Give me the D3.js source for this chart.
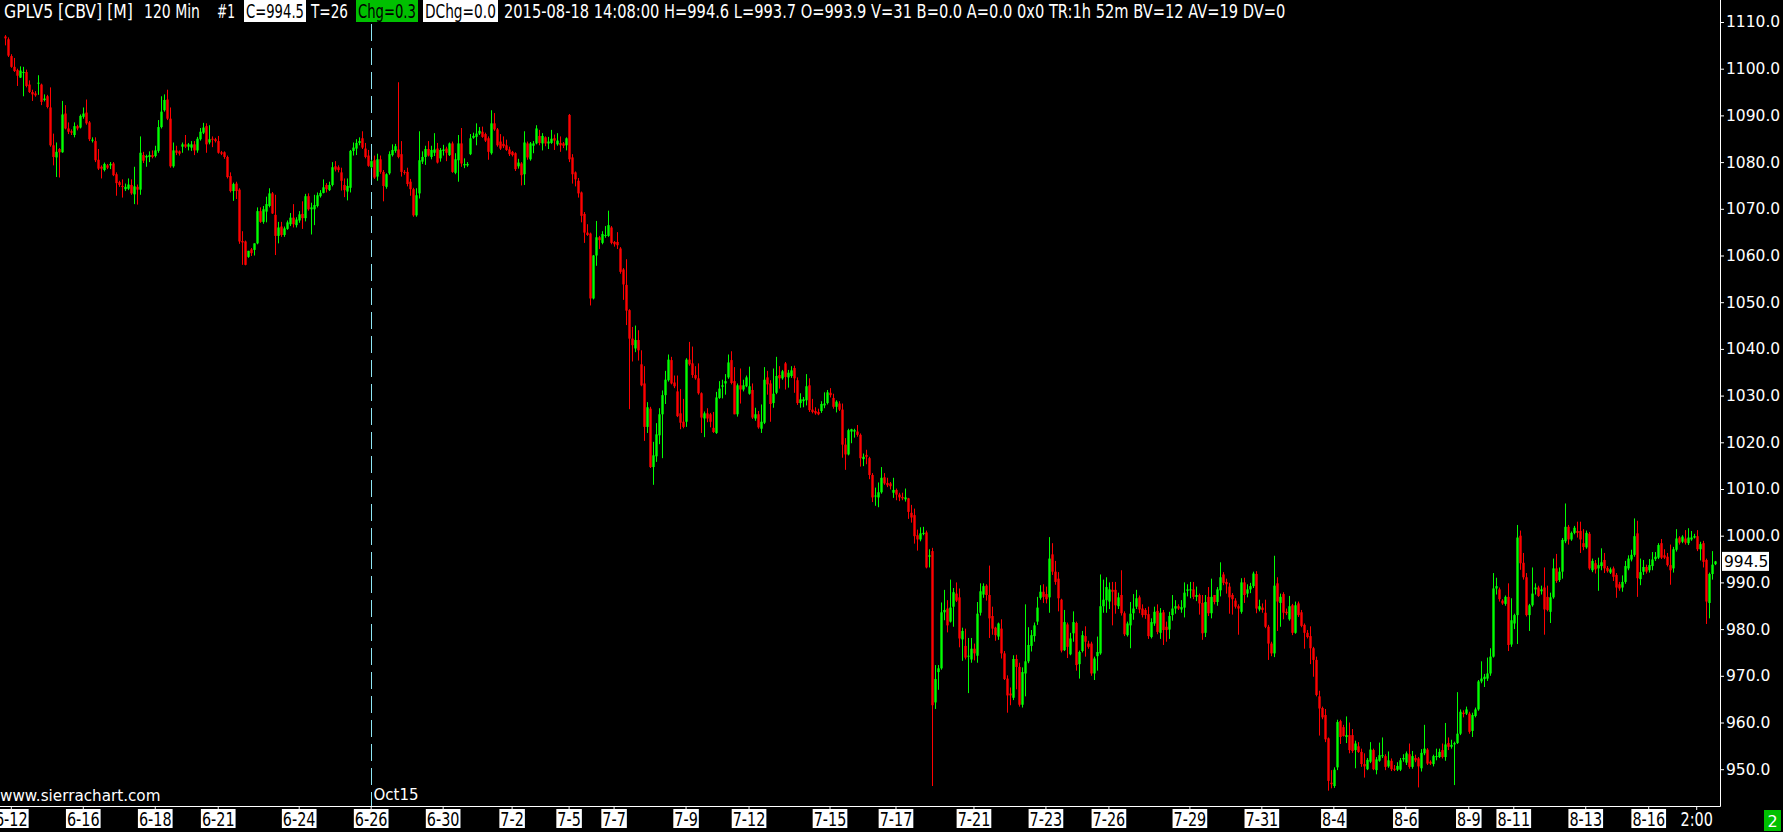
<!DOCTYPE html>
<html lang="en">
<head>
<meta charset="UTF-8">
<title>GPLV5 [CBV] 120 Min</title>
<script src="https://d3js.org/d3.v7.min.js"></script>
<style>
  html, body { margin: 0; padding: 0; background: #000; overflow: hidden; }
  svg { display: block; }
</style>
</head>
<body>
<svg width="1783" height="832"></svg>
<script>
// 120 min bars, one per entry, oldest first
const opens = [
1106.9,1106.3,1102.7,1100.4,1099.7,1098.1,1099.1,1099.3,1096.6,1095,
1094.7,1096.8,1096.6,1093.3,1094.1,1091.7,1083.6,1081,1082.8,1082.1,
1090.4,1087.2,1086.6,1085.8,1087.7,1087.4,1089.7,1090.6,1088.5,1084.6,
1084.5,1080.5,1079,1078.3,1079.3,1079.3,1079.7,1077.4,1075.7,1074.9,
1074.2,1074.3,1075.1,1073.1,1074.7,1074.1,1081.5,1081,1081.1,1081.5,
1081.3,1082.4,1087.5,1091.1,1093.4,1089.3,1079.1,1082.5,1082.3,1083.3,
1083.8,1083.3,1083.1,1083.8,1082.5,1084.9,1086.3,1087.7,1084.2,1085,
1084.9,1084.5,1082.1,1082.1,1081.1,1077,1073.8,1075.4,1074.1,1063.1,
1063,1059.7,1061.3,1061.2,1062.6,1069.5,1067.2,1069.4,1070.6,1073.3,
1068.7,1064.2,1066.2,1064.4,1065.7,1066.7,1068.1,1066.5,1067.5,1068.9,
1068,1072.7,1069.9,1069.9,1070.6,1072.7,1073.4,1075.1,1074,1075.1,
1079.1,1078.9,1077.8,1075.1,1073.7,1074.5,1082.4,1082.9,1084.1,1085.1,
1082.9,1081.4,1078.9,1080.4,1076.9,1080.6,1077.9,1074.7,1077.6,1081.5,
1082.4,1082.7,1081.7,1077.9,1077.9,1075.8,1074.2,1068.6,1073.3,1080.1,
1081.1,1082.8,1081.1,1082,1082.9,1080.8,1082.4,1082.9,1081.5,1084,
1077.7,1080.4,1084,1079.3,1079.3,1081.7,1085.2,1085.4,1086.1,1086.5,
1086,1085.1,1081.9,1088.3,1087,1084.4,1083.9,1083.6,1082.7,1082.2,
1081.9,1079.1,1079.7,1077.4,1084,1080.6,1083.5,1084,1085.6,1084,
1085.3,1084,1084.1,1085.1,1083.8,1084.1,1084,1083.6,1090.1,1081,
1077.8,1076,1073.5,1068.9,1064.9,1064.7,1050.8,1060,1063.9,1062.7,
1064.2,1064.2,1066,1062.9,1062.9,1061.5,1057,1053.7,1048.3,1042.2,
1040.1,1041.9,1036.7,1032.6,1023.3,1027.2,1014.7,1017,1021.5,1026,
1030.1,1033.3,1037.6,1032.8,1030.9,1026.2,1024.4,1024.4,1037.7,1036.9,
1034.4,1033.7,1030.5,1025.1,1026.2,1026,1023.1,1022,1029.5,1031.9,
1032.6,1033.9,1037.6,1033.1,1026,1032.2,1031.3,1032,1030.4,1031.2,
1025.1,1026,1022.9,1024.2,1033.9,1032.6,1028.4,1030.6,1034.4,1033.7,
1036.9,1033.9,1034.2,1035.9,1033.3,1028.4,1028.8,1029,1032.2,1027,
1026.7,1026.5,1026.7,1027.9,1028.4,1030.6,1029.5,1027.6,1028.3,1027,
1019.5,1017.4,1022.3,1022.3,1022.3,1021.6,1016.4,1017.3,1016.6,1013,
1008.5,1008.2,1009.3,1012.5,1011.3,1011.2,1009.2,1009.8,1008.8,1008.3,
1007.8,1008,1004.9,1004.4,1000.1,999.2,1000.4,1000.7,995.5,996.7,
964.3,970.8,971.6,983.6,984.4,981.6,984.8,987.6,986.8,977.8,
976.4,974.2,973.5,975.8,974.3,983.5,987.4,989.3,987.3,982.8,
980.3,978.4,980.1,974.8,969.4,966.2,965.3,973.6,971.9,963.8,
970.5,973.1,976.4,978.5,981.6,986.7,988,987.5,986.8,996,
992.3,990.8,986.3,975.5,981,974.6,979.1,981.3,972.5,975.3,
978.5,976.9,976.9,970.5,974.2,974.8,984.9,986.2,985.9,988.4,
988.4,984.9,987.3,983.4,978.7,980.8,983.4,984.8,986.8,984.4,
984.1,983.2,978.3,981.2,983.9,979.2,983.6,980.5,979.9,983,
984.4,984.9,984.2,984.6,988.2,988.3,988.5,986.9,987.3,985.6,
979.2,986.9,983.4,987.3,985.8,988.3,991.7,990.1,989.1,987.3,
986.1,984.9,983.7,990,987.6,988.5,989.2,991.8,984.2,984.6,
983.5,980.5,976.9,974.8,989.8,985.6,987.5,983.7,982.1,985.1,
979.2,985.5,983.6,980.9,979.2,978.5,975.9,973.4,965.6,963.1,
961.6,956.6,947.1,946.4,950.4,960.3,959,956.9,957.3,957.3,
954.1,954.9,953.7,951.1,950,951.6,954.1,949.8,951.8,952.8,
952.8,950.6,951.8,950.1,949.9,949.9,952.1,951.4,953.2,950.5,
952.4,952.3,950.2,953.4,954.2,951.6,951.1,952.6,952.6,954.1,
952.6,955.6,954.8,955.3,955.6,957.6,962.1,961.9,961.9,958.2,
961.4,962.8,968.8,969.3,969.4,970.5,974.1,988.7,988.5,986.1,
985.4,986.9,976.7,981.2,983,1000,994.2,991.1,983,985.1,
988.5,988.9,988.1,988.9,986.9,983.7,986.8,993,990.5,992.3,
998.8,1001.9,999.2,1000.6,1001,1001,998.4,997.5,1000.4,992.6,
994.1,993,993.5,994.8,993.1,992.1,993,991.6,989.6,988.9,
990.1,993,994.9,995.9,1000.5,990.7,992.3,993.3,992.6,993.5,
995,995.3,998.4,995.8,995.5,993.7,993,997,999.6,998.7,
999.4,998.4,999.2,999.6,999.9,997.1,998.4,994.8,985.6,991.8,
993.9];

const highs = [
1107.2,1106.7,1103.1,1102.3,1100,1100.5,1100.4,1099.8,1097.5,1095.5,
1095.2,1098.6,1096.8,1094.5,1094.4,1096,1086.1,1084.2,1083,1093.1,
1092.2,1088.5,1087,1088.5,1088,1090.2,1091.7,1093.4,1088.8,1085.3,
1085.3,1082.8,1079.3,1079.9,1079.6,1080,1080,1077.8,1076,1076.3,
1075.4,1076.5,1076.3,1079,1075.2,1085.5,1082.2,1081.6,1082.3,1082.5,
1083.5,1089,1094.1,1094.5,1095.5,1091.7,1084.2,1083.5,1082.5,1084.2,
1085.8,1084.1,1084.5,1084.5,1085.4,1087.3,1088.4,1088.3,1087.9,1085.5,
1085.2,1085.6,1082.4,1082.3,1081.4,1077.8,1075.6,1075.8,1074.4,1065.2,
1063.2,1061,1061.6,1062.6,1070.3,1070.3,1070.6,1072.6,1074.4,1073.6,
1073,1067.2,1067.2,1066.2,1067.5,1069.1,1071,1068.2,1069.5,1071.6,
1073.2,1073.3,1071.3,1073,1073.5,1074,1076.3,1075.5,1075.8,1080,
1080.2,1079.3,1078.8,1076.5,1076.5,1082.6,1084.2,1084.9,1085.3,1086.6,
1084.1,1082.6,1080.5,1081.4,1081.8,1081.4,1078.3,1077.6,1082.3,1083.8,
1083.9,1097.1,1084.5,1078.3,1078.8,1076.4,1074.5,1074.4,1086.6,1082.3,
1083.5,1084.5,1083.5,1086.2,1084.1,1083,1083.7,1083.3,1084.2,1084.4,
1081.9,1085.8,1087.3,1080.8,1080,1086,1086.3,1088.3,1087.5,1087.6,
1086.3,1085.5,1091.1,1090.5,1087.3,1086,1085.5,1084.8,1083.3,1082.4,
1082.1,1080.7,1080,1086.6,1084.4,1084.3,1084.5,1087.9,1086.9,1086.2,
1085.5,1085.4,1086.9,1085.9,1086.2,1085.5,1084.3,1085.3,1090.3,1081.7,
1078,1076.6,1073.7,1069.3,1066.7,1064.9,1060.1,1067.4,1064.2,1065.2,
1066.3,1069.6,1066.3,1063.1,1065,1061.8,1057.3,1059.2,1048.5,1044.7,
1045,1044,1039.7,1036.3,1028.6,1027.6,1020.1,1024.1,1027.3,1031.1,
1035.3,1038.8,1038.3,1034.3,1034.3,1031.4,1029.3,1038,1041.5,1040.5,
1036.3,1036.9,1030.7,1026.6,1027.3,1026.3,1026.5,1030.8,1033.1,1033.4,
1034.6,1038.8,1039.5,1036.1,1032.6,1035.8,1033.4,1034.3,1036.2,1032.6,
1027.4,1026.7,1028.1,1036.1,1035.3,1033.3,1035.8,1038.3,1036.3,1035.5,
1037.2,1035.5,1036.3,1036.4,1033.9,1030.5,1029.7,1034.6,1033.7,1029.3,
1027.5,1027.2,1028.8,1030.7,1031.2,1031.6,1030.4,1029,1028.8,1028.3,
1020.9,1022.9,1022.9,1022.9,1023.7,1021.9,1017.6,1018.4,1016.9,1013.4,
1010.3,1011.4,1014.7,1013.4,1012.4,1011.5,1012.4,1010.1,1009.2,1009.2,
1010.1,1008.1,1006.6,1005.8,1001.3,1001.8,1001.9,1001.1,997.1,997.4,
972.3,972.3,985.7,988.4,986.2,990.6,988.8,990,988.7,980.3,
980.1,978.1,978.1,976.9,985.8,989.8,989.8,989.6,993.6,984.8,
980.5,981.4,982.1,975.3,970.1,967.5,974.4,974.5,972.8,971.8,
985.3,980.4,979.8,981.4,986.9,989.4,989.6,989.1,999.7,998.4,
994.6,992.2,986.5,984.1,981.4,979.2,983.8,981.6,975.4,979.6,
980.6,977.5,977.3,974.1,978.4,991.7,990.6,991.1,990,990.1,
990.1,987.8,992.6,983.8,981.6,985.8,987.5,988.4,987.2,985.3,
984.5,984.8,982.3,984.8,985.3,984.5,984.1,981.6,983.7,987.3,
986.2,985.3,986.2,990,989.6,990.1,990.1,989.1,987.6,987.3,
987.3,989,990.8,987.3,989,994.3,992.2,990.8,989.9,987.7,
986.6,985.3,990.9,991,989.6,989.9,992.3,992.4,986.3,985.5,
986.3,980.9,977.3,995.7,991.1,987.6,987.9,984.4,987.1,985.4,
985.9,985.9,984.1,981.2,979.8,980.6,976.2,974.1,966.8,963.4,
962.9,956.8,949.8,950.4,960.6,960.6,959.5,961.3,960,958.6,
956.1,955.8,954.4,953.4,952.4,955.8,954.4,952.6,955.7,956.8,
953.2,953.8,952.3,950.9,951.5,952.4,953.2,953.8,955.5,953.9,
953.1,952.6,954.3,959.5,954.5,951.9,953.1,954.4,954.4,955.5,
959.9,956.8,956.3,955.9,966.5,962.8,962.6,963.4,962.3,962.1,
963.2,969.1,973.1,970.4,973.9,975.9,992,991,988.9,986.4,
987.2,989.8,986.6,983.3,1002.3,1001.1,996.3,992,985.4,993.2,
989.8,989.3,989.3,993.2,989.3,987.8,995.1,996.1,993.2,999.5,
1006.9,1002.3,1000.9,1002.1,1003,1003,1001.4,1001.1,1000.8,995.1,
994.8,995.3,997.3,996.3,993.5,993.2,993.4,992,990.1,991.5,
994.6,995.8,997,1003.7,1003.2,995.1,994.8,993.8,995,996.5,
996.5,998.4,999.3,997.1,996.3,998.1,997.6,1001.4,999.9,1000.1,
1001.2,1001.6,1001,1000.4,1001.2,998.7,998.9,995.1,992.1,996.7,
994.6];

const lows = [
1105,1102.5,1100.2,1099.3,1096.3,1098,1094.1,1096,1094.8,1093.1,
1094,1094.4,1092.2,1093,1091.5,1083.3,1079.3,1076.8,1076.7,1082,
1087,1086,1085.8,1085.3,1086.8,1087.2,1089.3,1088,1084.5,1084.2,
1080,1078.3,1076.5,1078,1078.5,1078.5,1077,1072.8,1074.7,1072.4,
1073.8,1074,1073,1071,1070.9,1073,1079.8,1079,1080,1080.8,
1081,1082,1087.2,1090.8,1089,1078.8,1078.8,1081.5,1081.4,1082,
1083,1082.5,1082.4,1081.5,1082,1084.6,1086,1082,1083.8,1083.2,
1084.2,1081.8,1081.5,1080.7,1076.5,1073.5,1071.7,1072.1,1062.5,1058,
1057.9,1059.5,1059.9,1060,1062.4,1067,1066.8,1067.1,1070.3,1068.9,
1060.1,1062.6,1064,1064,1065.5,1066.3,1066,1066,1067,1065.7,
1067.3,1069.6,1064.5,1066.5,1070.3,1072.4,1073.3,1073.5,1073.8,1074.8,
1078,1077.8,1073.9,1072.5,1071.8,1073.5,1081.4,1081.5,1083.6,1082.8,
1080.8,1079,1078.7,1076.4,1076,1077.5,1071.6,1074.3,1077.3,1081.2,
1082,1080.8,1076.9,1077.3,1074.8,1072.8,1068.3,1068.3,1072.2,1079.6,
1079.4,1081.2,1080.6,1081.3,1079.7,1080.1,1081.4,1080.2,1081.3,1077.7,
1077.4,1075.8,1079,1078.7,1079,1081.5,1085,1083.6,1085.8,1085.2,
1084.3,1080.5,1081.6,1086.7,1083.3,1082.6,1083,1082.4,1081.3,1081.2,
1078.1,1078.6,1075,1075.1,1080.5,1080.3,1081.9,1083.8,1083.6,1082.5,
1083.4,1082.8,1083.9,1082.6,1083.5,1082.2,1083,1082.5,1080,1075.4,
1074.8,1072.4,1067.1,1062.7,1064.2,1049.3,1050.6,1057.8,1061.4,1062.4,
1063.8,1064,1062.4,1061.9,1061.4,1056.1,1050.5,1045.1,1027.1,1037.3,
1039.3,1037.5,1032,1020.3,1022,1014.5,1010.9,1015.8,1019.6,1016.6,
1028.2,1033,1032.4,1031.6,1025.4,1022.8,1023,1023.3,1036.4,1033.8,
1033.4,1030.2,1022,1021.1,1024.3,1023.2,1022,1021.8,1029.3,1029.4,
1030.2,1033.6,1032.4,1026,1025.5,1028.3,1030.9,1031.8,1030.2,1025,
1024.6,1022.9,1022,1023.9,1030.2,1024.4,1027.4,1030.3,1031.5,1033.4,
1031.3,1031.7,1033.8,1030.6,1028,1027.4,1027.5,1027.9,1026.5,1026.2,
1025.9,1025.8,1026.3,1027.3,1028.1,1029.6,1027.2,1026.4,1026.7,1016.7,
1014.1,1017.2,1019.8,1021,1021.2,1014.8,1014.9,1015.3,1012.1,1007.2,
1006.4,1006.1,1009,1010.9,1010.4,1009.9,1008.1,1007.6,1007.4,1007.6,
1007.3,1003.6,1002.8,998.3,996.8,998.8,1000.1,993,993.2,946.4,
962.9,967,971.3,981.9,979.3,981.4,980.5,985.8,976.1,973.2,
973.5,966.3,972.8,973.3,972.8,982.9,986.7,986.1,978.1,978.8,
977.5,977.7,973.7,969.1,962.1,963.7,964.8,967.1,963.4,963.2,
965.6,972.7,975.2,977.3,980.9,986.3,985.6,985.5,983.5,991.6,
989.5,983.8,975,975.3,973.8,974.4,977.3,971.1,969.4,975,
974.1,975.8,970,969.1,971.1,974.5,983.5,983.5,984.3,980.8,
983.3,984.3,982.9,978.5,978.4,975.9,982,984.3,983.4,982.5,
982.2,977.9,978,980.7,978.9,977.9,976.6,977.3,977.9,981.8,
983.3,984.1,983.5,982.5,987,986.6,986.4,986,983.1,977.7,
978.3,982.8,982.3,985.3,985,987,989.4,987.6,983.3,983.1,
984.4,978.8,983.3,985.6,986.8,987.7,988.8,983.4,983.8,983.5,
980.2,973.4,974.2,974,979.6,980.5,982.1,983,981.8,978.7,
979,982.6,980.4,975.8,978,972.5,969.8,965.6,957.2,960.7,
955.8,945.4,945.9,946,949.8,955.4,957,955.6,953.4,953.5,
950.2,953.5,950.5,948.2,949.8,951.3,949.8,948.9,951.6,952.4,
949.8,950.3,949.6,949.6,949.6,949.6,951.6,950.9,950.1,950.1,
951.5,946.1,949.5,953,950.9,950.9,950.6,951.9,952.4,952.3,
951.8,954.1,954.4,946.6,955.4,957.3,961.1,961.6,957.6,956.9,
961.1,962.5,968.4,967.6,968.9,970,973.9,987.4,985.9,985.2,
985,975.3,976.2,980,976.8,992.7,990.6,982.7,979.6,984.8,
987.4,986.9,987.4,978.8,983.8,981.3,986.5,989.9,990.1,990.8,
998.4,998.1,998.9,1000.3,999.6,996.3,996.9,997.2,992.7,992.2,
991.9,988.2,992.6,992,992.1,991.8,990.3,986.7,988.2,988,
989.7,992.6,994.5,995.5,986.9,989.4,991.6,991.9,992.1,992.6,
994.6,995,995,995,993.4,989.5,992.1,996.6,998.1,998.4,
998.1,998,998.9,999.4,996.7,994.7,993.2,981.1,982.3,990.6,
993.7];

const closes = [
1106.5,1102.8,1100.4,1099.5,1098.5,1099.6,1099.3,1096.3,1095,1094.5,
1094.3,1097,1092.9,1093.6,1091.8,1083.6,1081.1,1082.2,1082.1,1090.2,
1087.2,1086.5,1086.3,1087.7,1087.2,1089.9,1090.4,1088.3,1084.9,1084.8,
1080.4,1078.6,1078.6,1079.6,1078.8,1079.6,1077.2,1075.5,1075.1,1074.7,
1074.7,1075.2,1073.3,1074.8,1074.1,1082,1080.3,1081.3,1081.5,1081.1,
1082.5,1087.5,1090.8,1093.3,1089.3,1079.1,1082.5,1082,1081.8,1083.8,
1083.3,1083.8,1083.8,1082.5,1085,1086.5,1087.4,1083.8,1084.9,1084.8,
1084.5,1082,1081.8,1081.1,1076.8,1073.8,1075.3,1073.8,1063,1062.8,
1058,1061,1060.5,1062.6,1069.5,1067.2,1069.9,1071,1073.3,1069,
1064.2,1066,1064.4,1065.8,1067.1,1068.1,1066.7,1067.7,1068.8,1068,
1072.7,1069.9,1070.3,1070.8,1072.9,1073.4,1074.6,1074.2,1075.1,1078.9,
1078.4,1078.3,1076,1074,1074.9,1082.4,1083.1,1084.1,1084.5,1083.1,
1081.1,1079.2,1080.2,1076.7,1080.6,1077.9,1074.9,1077.4,1081.7,1082.6,
1083.4,1081.1,1077.9,1077.7,1075.3,1074.2,1068.6,1072.9,1080.4,1081.1,
1082.8,1081.4,1082.6,1082.7,1079.9,1082.6,1082.7,1082,1084,1077.9,
1080.6,1084,1079.7,1079.6,1079.6,1085.1,1085.6,1086.1,1086.7,1085.4,
1084.6,1082.2,1088.3,1087,1083.6,1082.9,1083.4,1082.6,1081.7,1081.5,
1078.5,1079.9,1077.2,1084.2,1081,1084,1084,1087.2,1084.1,1085.6,
1084,1084.4,1085,1084.6,1084.6,1083.6,1083.5,1085.1,1080.6,1077.4,
1076.3,1073.3,1068.5,1064.9,1064.4,1050.8,1060,1063.9,1063.3,1064.6,
1064.4,1066.5,1062.7,1062.4,1062.2,1056.5,1053.8,1048.2,1042.2,1040.8,
1041.9,1039.7,1032.2,1023.3,1027.5,1014.7,1017.2,1021.7,1026,1030.1,
1033.4,1037.7,1032.6,1032,1025.6,1024.2,1023.3,1037.7,1036.7,1034.4,
1033.7,1030.5,1025.3,1026.2,1025.1,1024.4,1022.2,1029.6,1031.5,1032.2,
1033.1,1037.1,1032.7,1026,1032.2,1031.3,1032.2,1033.9,1032,1025.3,
1026,1023.2,1024.4,1033.4,1032.4,1028.2,1030.4,1034.2,1033.7,1035.2,
1034,1034.9,1035.4,1033.7,1028.4,1029.2,1029.2,1032,1026.9,1026.5,
1026.2,1026,1028.2,1028.3,1030.7,1030.1,1027.6,1028.7,1027,1019.5,
1017.4,1022.6,1022.8,1022.6,1021.6,1016.6,1016.9,1016.9,1013,1008.2,
1008.6,1009.3,1012.4,1011.2,1010.8,1010.6,1009.8,1008.8,1008.2,1008,
1008.2,1005.1,1003.9,999.9,999.2,1000.5,1000.6,993.2,995.8,963.7,
969.3,971.6,983.6,984.1,980.8,984.6,987.9,986.1,978,979.6,
973.9,974.3,975.8,974.8,983.3,988.1,989.2,987.3,982.3,980.1,
978.7,981.2,974.8,969.3,965.8,965.8,973.6,971.9,963.8,970.8,
973.1,976.6,978.7,980.8,984.6,988,986.9,986.4,995.1,992.3,
990.1,986.6,975.4,981.5,976.2,978,981.5,972.3,975.1,978.7,
977.3,976.2,970.5,973.7,975.1,984.9,986.3,989,988.5,988,
985.1,986.8,983.4,978.9,981.2,983.3,984.4,986.6,984.2,983,
983,978.5,981.5,983.7,979.4,983.5,979.8,979.8,982.8,984.4,
984.9,984.4,984.7,987.8,988.5,988.5,986.9,987.3,985.5,979.1,
985.8,983.4,986.9,985.8,988.5,991.1,989.9,989.6,986.8,986.4,
984.8,984.4,990,987.3,988.5,989.2,991.9,984.4,984.9,984.1,
980.5,976.9,974.8,989.3,985.9,986.9,983.5,983.4,984.9,979.2,
985.1,983,980.7,979.2,978.3,975.9,973.4,965.9,963,961.1,
956.4,947.5,946.8,949.9,960.1,956.9,957.1,957.3,954.1,953.9,
955.5,953.7,951.1,950.6,952,954.2,950,952.1,953,953,
950.5,951.9,950,949.9,950.7,951.9,952.4,953.4,950.5,952.8,
951.9,950.6,953.5,954.4,951.2,951.2,952.8,952.8,953.7,952.6,
955.3,954.8,955.2,955.6,957.6,962.3,961.8,962.8,958,961.6,
962.8,968.8,969.4,969.8,970.5,974.1,988.7,989.2,986.4,985.5,
986.9,976.6,981.9,983,999.6,994.1,991.1,983,985.1,987.6,
988.9,987.1,988.5,984.2,984.1,986.8,993,990.3,992.3,999.1,
1001.9,999.2,1000.6,1001.7,1000.6,999.2,997.6,1000.6,993,994.6,
992.8,993.7,994.3,993,992.4,992.8,991.2,988.9,988.7,990.1,
993.5,995.1,995.9,999.9,990.9,992.2,993.3,992.3,993.7,994.9,
995.5,998,995.3,995.3,993.7,992.6,997.1,999.4,998.5,999.8,
998.5,999.6,999.6,999.9,997.1,998.2,994.4,985.9,991.8,993.8,
994.5];

// date labels and the bar each one sits on
const dateLabels = ["6-12","6-16","6-18","6-21","6-24","6-26","6-30","7-2","7-5","7-7","7-9","7-12","7-15",
  "7-17","7-21","7-23","7-26","7-29","7-31","8-4","8-6","8-9","8-11","8-13","8-16","2:00"];
const dateBars = [2,26,50,71,98,122,146,169,188,203,227,248,275,297,323,347,368,395,419,443,467,488,503,527,548,564];

const priceTicks = [950,960,970,980,990,1000,1010,1020,1030,1040,1050,1060,1070,1080,1090,1100,1110];

const contractStartBar = 122;   // Oct15 contract begins here
const lastPrice = 994.5;

const svg = d3.select("svg");
const W = 1783, H = 832;
const plotRight = 1720, plotBottom = 806;
const narrow = '"Liberation Sans Narrow", "DejaVu Sans Condensed", "Arial Narrow", sans-serif';
const wide = '"DejaVu Sans", Verdana, sans-serif';
const up = "#00ff00", down = "#ff0000";

svg.append("rect").attr("width", W).attr("height", H).attr("fill", "#000");

const x = d3.scaleBand().domain(d3.range(closes.length)).range([3.5, 1716.5]).padding(0.2);
const y = d3.scaleLinear().domain([950, 1110]).range([769.2, 22]);
const cx = i => Math.round(x(i) + x.bandwidth() / 2) + 0.5;
const bw = x.bandwidth();

// tall narrow text: shrink the font until it fits the width, then stretch it back up
function narrowText(parent, str, px, py, width, size, fill, anchor) {
    const t = parent.append("text").attr("font-family", narrow).attr("font-size", size)
        .attr("fill", fill).attr("text-anchor", anchor || "start").text(str);
    const len = t.node().getComputedTextLength();
    const k = len > width ? width / len : 1;
    t.attr("font-size", size * k)
        .attr("transform", `translate(${px},${py}) scale(1,${1 / k})`);
    return len * k;
}

// contract roll marker
svg.append("line")
    .attr("x1", cx(contractStartBar)).attr("x2", cx(contractStartBar))
    .attr("y1", 0).attr("y2", plotBottom)
    .attr("stroke", "#8ee6f4").attr("stroke-dasharray", "17,7");

svg.append("text")
    .attr("x", cx(contractStartBar) + 2).attr("y", 800)
    .attr("fill", "#fff").attr("font-family", wide).attr("font-size", 15)
    .text("Oct15");

svg.append("text")
    .attr("x", 0).attr("y", 801)
    .attr("fill", "#fff").attr("font-family", wide).attr("font-size", 15.2)
    .text("www.sierrachart.com");

// candles
const col = i => closes[i] >= opens[i] ? up : down;
const candles = svg.append("g");
candles.selectAll("line").data(closes).join("line")
    .attr("x1", (d, i) => cx(i)).attr("x2", (d, i) => cx(i))
    .attr("y1", (d, i) => y(highs[i])).attr("y2", (d, i) => y(lows[i]))
    .attr("stroke", (d, i) => col(i)).attr("stroke-width", 1);
candles.selectAll("rect").data(closes).join("rect")
    .attr("x", (d, i) => cx(i) - bw / 2)
    .attr("y", (d, i) => y(Math.max(d, opens[i])))
    .attr("width", bw)
    .attr("height", (d, i) => Math.max(1, Math.abs(y(d) - y(opens[i]))))
    .attr("fill", (d, i) => col(i));

// borders
svg.append("line").attr("x1", plotRight + 0.5).attr("x2", plotRight + 0.5)
    .attr("y1", 0).attr("y2", plotBottom + 0.5).attr("stroke", "#fff");
svg.append("line").attr("x1", 0).attr("x2", plotRight + 0.5)
    .attr("y1", plotBottom + 0.5).attr("y2", plotBottom + 0.5).attr("stroke", "#fff");

// price axis
const gy = svg.append("g")
    .attr("transform", `translate(${plotRight},0)`)
    .call(d3.axisRight(y).tickValues(priceTicks).tickFormat(d3.format(".1f")).tickSize(4).tickPadding(2));
gy.select(".domain").remove();
gy.selectAll("line").attr("stroke", "#fff");
gy.selectAll("text").attr("fill", "#fff").attr("font-family", wide).attr("font-size", 15.5);

// last price box
const lp = svg.append("g").attr("transform", `translate(${plotRight + 2},${y(lastPrice)})`);
lp.append("rect").attr("x", 0).attr("y", -9.5).attr("width", 47).attr("height", 19).attr("fill", "#fff");
lp.append("text").attr("x", 2).attr("dy", "0.36em").attr("fill", "#000")
    .attr("font-family", wide).attr("font-size", 15.5).text(d3.format(".1f")(lastPrice));

// date axis: ticks from d3, labels drawn as narrow boxed text
const gx = svg.append("g")
    .attr("transform", `translate(0,${plotBottom})`)
    .call(d3.axisBottom(x).tickValues(dateBars).tickFormat("").tickSize(4));
gx.select(".domain").remove();
gx.selectAll("line").attr("stroke", "#fff");
gx.selectAll(".tick text").remove();
gx.selectAll(".tick").each(function (d, i) {
    const g = d3.select(this);
    const last = i === dateBars.length - 1;
    const box = g.append("rect").attr("y", 3).attr("height", 19).attr("fill", last ? "none" : "#fff");
    const probe = g.append("text").attr("font-family", narrow).attr("font-size", 20).text(dateLabels[i]);
    const w = probe.node().getComputedTextLength() * 0.8;
    probe.remove();
    narrowText(g, dateLabels[i], 0, 20, w, 20, last ? "#fff" : "#000", "middle");
    box.attr("x", -w / 2 - 1).attr("width", w + 2);
});

// header line
const header = [
    { t: "GPLV5 [CBV] [M]", x: 4, w: 131 },
    { t: "120 Min", x: 144, w: 58 },
    { t: "#1", x: 217, w: 20 },
    { t: "C=994.5", x: 244, w: 62, box: "#fff" },
    { t: "T=26", x: 311, w: 39 },
    { t: "Chg=0.3", x: 356, w: 62, box: "#00c000" },
    { t: "DChg=0.0", x: 423, w: 75, box: "#fff" },
    { t: "2015-08-18 14:08:00 H=994.6 L=993.7 O=993.9 V=31 B=0.0 A=0.0 0x0 TR:1h 52m BV=12 AV=19 DV=0", x: 504, w: 784 }
];
const hg = svg.append("g");
header.forEach(h => {
    if (h.box) {
        hg.append("rect").attr("x", h.x).attr("y", 0).attr("width", h.w).attr("height", 22).attr("fill", h.box);
    }
    narrowText(hg, h.t, h.box ? h.x + 2 : h.x, 18, h.box ? h.w - 4 : h.w - 2, 20, h.box ? "#000" : "#fff");
});

// chart number tag
svg.append("rect").attr("x", 1764).attr("y", 810).attr("width", 17).attr("height", 21).attr("fill", "#00c000");
svg.append("text").attr("x", 1772.5).attr("y", 827).attr("text-anchor", "middle")
    .attr("fill", "#fff").attr("font-family", wide).attr("font-size", 16).text("2");
</script>
</body>
</html>
